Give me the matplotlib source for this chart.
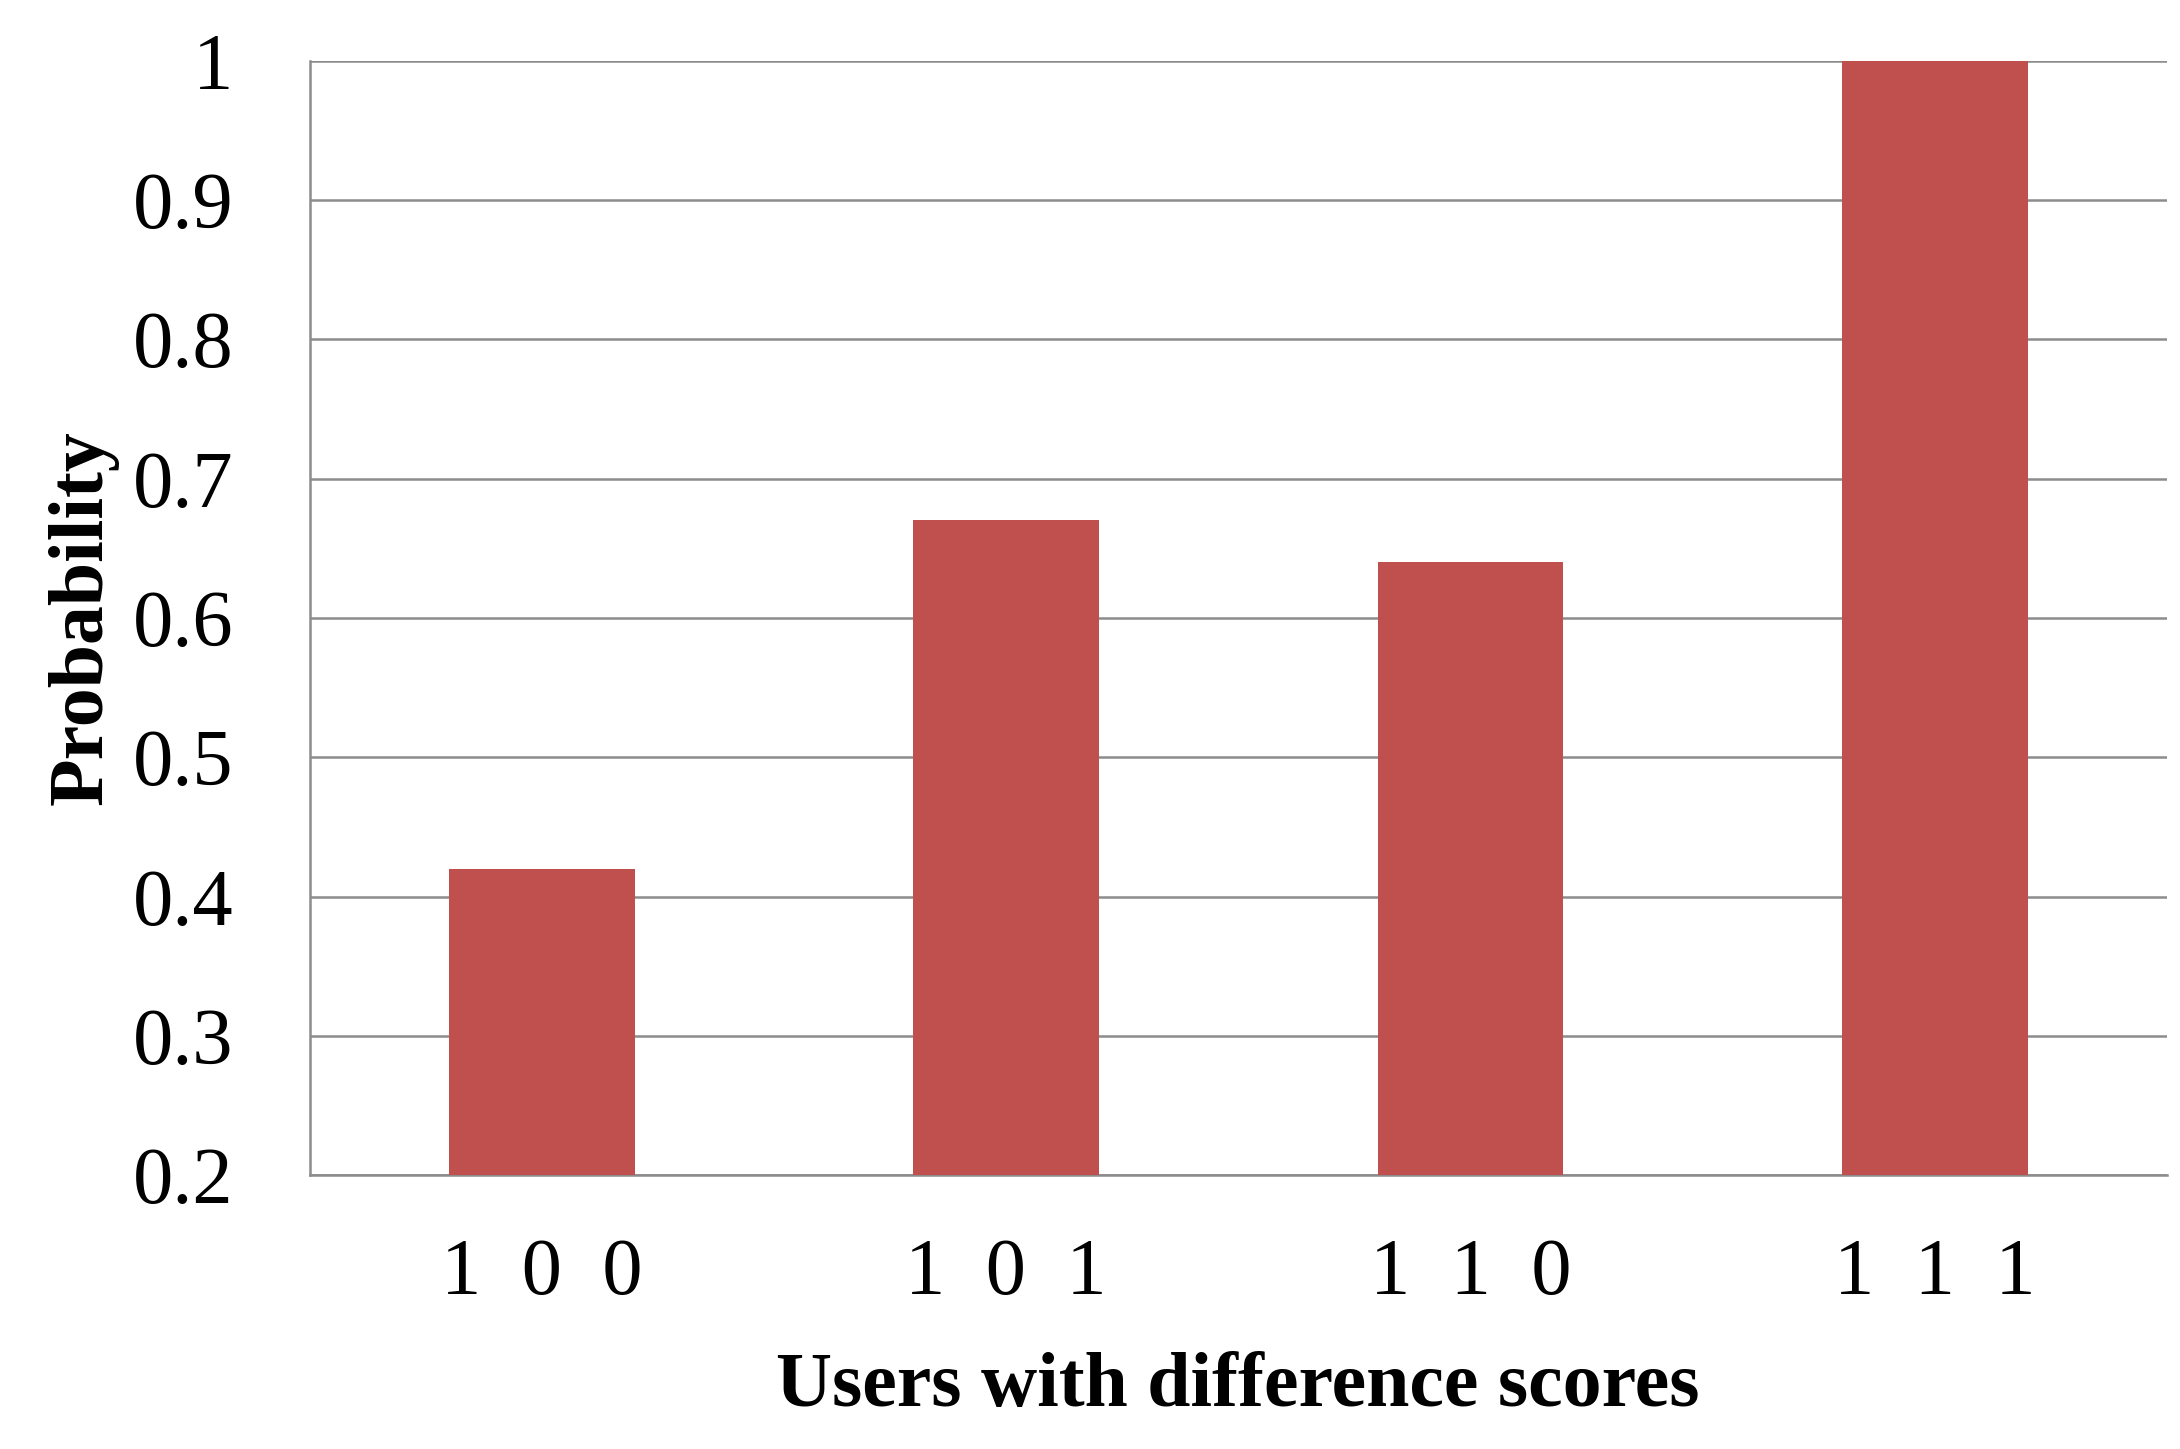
import matplotlib.pyplot as plt

categories = ["1  0  0", "1  0  1", "1  1  0", "1  1  1"]
probability = [0.42, 0.67, 0.64, 1.0]
yticks = [0.2, 0.3, 0.4, 0.5, 0.6, 0.7, 0.8, 0.9, 1.0]
ylabels = ["0.2", "0.3", "0.4", "0.5", "0.6", "0.7", "0.8", "0.9", "1"]

plt.rcParams['font.family'] = ['Liberation Serif', 'DejaVu Serif']

fig = plt.figure(figsize=(21.8, 14.49), dpi=100)
ax = fig.add_axes([0.142, 0.189, 0.852, 0.769])

x = range(len(categories))
ax.bar(x, probability, width=0.4, color="#c0504d", zorder=3)

ax.set_ylim(0.2, 1.0)
ax.set_xlim(-0.5, 3.5)
ax.set_yticks(yticks)
ax.set_yticklabels(ylabels, fontsize=58)
ax.set_xticks(list(x))
ax.set_xticklabels(categories, fontsize=58)
ax.tick_params(axis="x", length=0, pad=45)
ax.tick_params(axis="y", length=0, pad=55)

ax.grid(axis="y", color="#8c8c8c", linewidth=1.8, zorder=0)
for s in ["top", "right"]:
    ax.spines[s].set_visible(False)
ax.spines["left"].set_color("#8c8c8c")
ax.spines["bottom"].set_color("#8c8c8c")
ax.spines["left"].set_linewidth(1.8)
ax.spines["bottom"].set_linewidth(1.8)

ax.set_xlabel("Users with difference scores", fontsize=56, fontweight="bold", labelpad=30)
ax.set_ylabel("Probability", fontsize=56, fontweight="bold", labelpad=10)

fig.savefig("out.png")
